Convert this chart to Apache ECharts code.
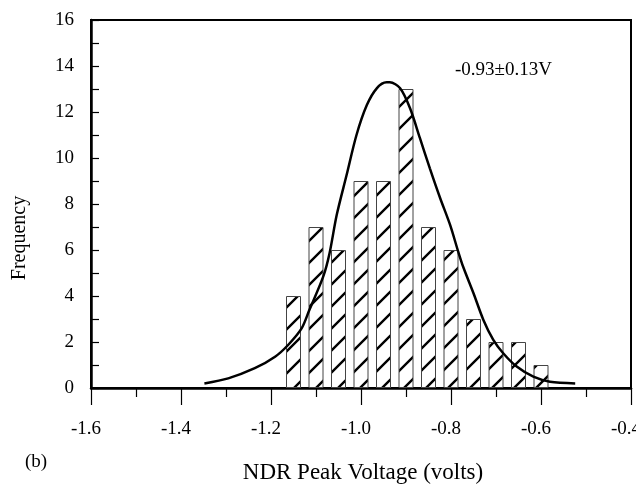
<!DOCTYPE html>
<html>
<head>
<meta charset="utf-8">
<script src="https://cdn.jsdelivr.net/npm/echarts@6/dist/echarts.min.js"></script>
<style>html,body{margin:0;padding:0;background:#fff;}#c{width:636px;height:489px;}</style>
</head>
<body>
<div id="c"></div>
<script>
// Histogram data
const binCenters = [-1.15, -1.10, -1.05, -1.00, -0.95, -0.90, -0.85, -0.80, -0.75, -0.70, -0.65, -0.60];
const frequencies = [4, 7, 6, 9, 9, 13, 7, 6, 3, 2, 2, 1];
// Fitted curve
const curveX = [-1.348, -1.295, -1.236, -1.191, -1.162, -1.132, -1.115, -1.084, -1.070, -1.054, -1.032, -1.010, -0.987, -0.965, -0.943, -0.936, -0.913, -0.891, -0.869, -0.847, -0.824, -0.802, -0.784, -0.773, -0.750, -0.728, -0.706, -0.684, -0.654, -0.617, -0.580, -0.524];
const curveY = [0.20, 0.42, 0.86, 1.36, 1.87, 2.59, 3.38, 4.84, 5.85, 7.52, 9.26, 11.0, 12.3, 13.03, 13.29, 13.29, 13.03, 12.16, 10.86, 9.55, 8.25, 7.09, 5.93, 5.27, 4.12, 2.96, 2.09, 1.51, 0.93, 0.49, 0.27, 0.20];
const annotation = '-0.93\u00b10.13V';
const xTitle = 'NDR Peak Voltage (volts)';
const yTitle = 'Frequency';
const panelLabel = '(b)';

// hatch pattern
const tile = document.createElement('canvas');
const T = 22;
tile.width = T; tile.height = T;
const g = tile.getContext('2d');
g.fillStyle = '#fff'; g.fillRect(0, 0, T, T);
g.strokeStyle = '#000'; g.lineWidth = 2.4;
g.beginPath();
g.moveTo(-2, T + 2); g.lineTo(T + 2, -2);
g.moveTo(-2, 2); g.lineTo(2, -2);
g.moveTo(T - 2, T + 2); g.lineTo(T + 2, T - 2);
g.stroke();

const font = 'Liberation Serif';
const chart = echarts.init(document.getElementById('c'), null, {renderer: 'canvas'});
chart.setOption({
  animation: false,
  backgroundColor: '#fff',
  grid: {left: 91, right: 5, top: 20, bottom: 101, show: true, borderColor: '#000', borderWidth: 2, outerBoundsMode: 'none', containLabel: false},
  xAxis: {
    type: 'value', min: -1.6, max: -0.4, interval: 0.2,
    axisLine: {show: true, lineStyle: {color: '#000', width: 2.5}},
    axisTick: {show: true, length: 17, lineStyle: {color: '#000', width: 1.2}},
    minorTick: {show: true, splitNumber: 2, length: 9, lineStyle: {color: '#000', width: 1.2}},
    splitLine: {show: false},
    axisLabel: {color: '#000', fontFamily: font, fontSize: 19, margin: 32, padding: [0, 10, 0, 0], formatter: v => v.toFixed(1)},
    name: xTitle, nameLocation: 'middle', nameGap: 73,
    nameTextStyle: {color: '#000', fontFamily: font, fontSize: 23, padding: [0, 0, 0, 4]}
  },
  yAxis: {
    type: 'value', min: 0, max: 16, interval: 2,
    axisLine: {show: true, lineStyle: {color: '#000', width: 2.5}},
    axisTick: {show: true, inside: true, length: 8, lineStyle: {color: '#000', width: 1.2}},
    minorTick: {show: true, splitNumber: 2, length: 8, lineStyle: {color: '#000', width: 1.2}},
    splitLine: {show: false},
    axisLabel: {color: '#000', fontFamily: font, fontSize: 19, margin: 17}
  },
  graphic: [
    {type: 'text', x: 20, y: 238, rotation: Math.PI / 2, style: {text: yTitle, fill: '#000', font: '20px "Liberation Serif"', textAlign: 'center', textVerticalAlign: 'middle'}},
    {type: 'text', x: 36, y: 462, style: {text: panelLabel, fill: '#000', font: '19px "Liberation Serif"', textAlign: 'center', textVerticalAlign: 'middle'}},
    {type: 'text', x: 455, y: 70, style: {text: annotation, fill: '#000', font: '19px "Liberation Serif"', textAlign: 'left', textVerticalAlign: 'middle'}}
  ],
  series: [
    {
      type: 'bar', barWidth: 15,
      data: binCenters.map((x, i) => [x, frequencies[i]]),
      itemStyle: {color: {image: tile, repeat: 'repeat'}, borderColor: '#444', borderWidth: 1}
    },
    {
      type: 'line', smooth: 0.3, symbol: 'none', z: 5,
      data: curveX.map((x, i) => [x, curveY[i]]),
      lineStyle: {color: '#000', width: 2.5}
    }
  ]
});
</script>
</body>
</html>
